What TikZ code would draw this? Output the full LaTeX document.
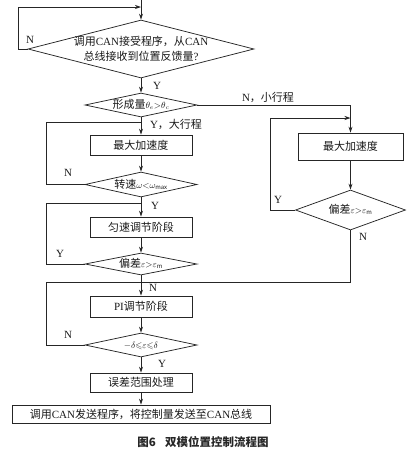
\documentclass[tikz,border=0pt]{standalone}
\usepackage{amssymb}
\usepackage{fontspec}
\setmainfont{Noto Sans CJK SC}
\newfontfamily\lat{Liberation Serif}
\usetikzlibrary{shapes.geometric,arrows.meta}
\newcommand\zbox[1]{\makebox[0pt]{\raisebox{-0.36em}[0pt][0pt]{#1}}}
\newcommand\mth[1]{{\fontsize{9}{10}\selectfont$#1$}}
\begin{document}
\begin{tikzpicture}[x=1pt,y=-1pt,
  every node/.style={font=\fontsize{11}{15}\selectfont, text=black!90},
  line/.style={draw=black!85, line width=0.75pt},
  arr/.style={line, -{Stealth[length=6pt,width=4pt]}},
  box/.style={line, rectangle, inner sep=0pt, minimum width=102pt, minimum height=20pt},
  dia/.style={line, diamond, inner sep=0pt},
  lbl/.style={inner sep=0pt, font=\lat\fontsize{11}{13}\selectfont}
]
\useasboundingbox (0,0) rectangle (416,459);

% main column
\node[dia, minimum width=226pt, minimum height=58pt] (d1) at (141,49)
  {\zbox{\begin{tabular}{@{}c@{}}调用{\lat CAN}接受程序，从{\lat CAN}\\总线接收到位置反馈量{\lat ?}\end{tabular}}};
\node[dia, minimum width=112pt, minimum height=24pt] (d2) at (141,105)
  {\zbox{形成量\mth{\theta_e{>}\theta_c}}};
\node[box] (b1) at (141,145) {最大加速度};
\node[dia, minimum width=112pt, minimum height=25pt] (d3) at (141,184.5)
  {\zbox{转速\mth{\omega{<}\omega_{\max}}}};
\node[box] (b2) at (141,227) {匀速调节阶段};
\node[dia, minimum width=112pt, minimum height=22pt] (d4) at (141,264)
  {\zbox{偏差\mth{\varepsilon{>}\varepsilon_{\mathrm m}}}};
\node[box, minimum height=21pt] (b3) at (141,306.5) {{\lat PI}调节阶段};
\node[dia, minimum width=112pt, minimum height=24pt] (d5) at (141,345)
  {\zbox{\mth{-\delta{\leqslant}\varepsilon{\leqslant}\delta}}};
\node[box, minimum height=19pt] (b4) at (141,382.5) {误差范围处理};
\node[box, minimum width=258pt, minimum height=18pt] (b5) at (141,414)
  {调用{\lat CAN}发送程序，将控制量发送至{\lat CAN}总线};

% right column
\node[box, minimum width=105pt, minimum height=27pt] (rb) at (350.5,146.5) {最大加速度};
\node[dia, minimum width=110pt, minimum height=40pt] (rd) at (350.5,210)
  {\zbox{偏差\mth{\varepsilon{>}\varepsilon_{\mathrm m}}}};

% caption
\node[font=\bfseries\fontsize{11.5}{13}\selectfont, text=black!85] (cap) at (203,442)
  {图6\hspace{0.8em}双模位置控制流程图};

% junction coordinates
\coordinate (top) at (141,0);
\coordinate (j0) at (141,7);
\coordinate (j1) at (141,122);
\coordinate (j2) at (141,203);
\coordinate (j3) at (141,282);
\coordinate (jr) at (350.5,118);

% connectors
\draw[arr] (top) -- (d1.north);
\draw[arr] (d1.west) -- ++(-9,0) |- (j0);
\draw[arr] (d1.south) -- (d2.north);
\draw[arr] (d2.south) -- (b1.north);
\draw[arr] (b1.south) -- (d3.north);
\draw[line] (d3.west) -- ++(-38,0) |- (j1);
\draw[arr] (d3.south) -- (b2.north);
\draw[arr] (b2.south) -- (d4.north);
\draw[line] (d4.west) -- ++(-38,0) |- (j2);
\draw[arr] (d4.south) -- (b3.north);
\draw[arr] (b3.south) -- (d5.north);
\draw[line] (d5.west) -- ++(-38,0) |- (j3);
\draw[arr] (d5.south) -- (b4.north);
\draw[arr] (b4.south) -- (b5.north);

\draw[arr] (d2.east) -| (rb.north);
\draw[arr] (rb.south) -- (rd.north);
\draw[arr] (rd.west) -- ++(-25,0) |- (jr);
\draw[line] (rd.south) |- (j3);

% labels
\node[lbl] (l1) at (30,40) {N};
\node[lbl] (l2) at (157,86) {Y};
\node[lbl] (l3) at (268,97) {N{\rmfamily\fontsize{11}{13}\selectfont ，小行程}};
\node[lbl] (l4) at (176,124) {Y{\rmfamily\fontsize{11}{13}\selectfont ，大行程}};
\node[lbl] (l5) at (68,173) {N};
\node[lbl] (l6) at (155,206) {Y};
\node[lbl] (l7) at (60,254) {Y};
\node[lbl] (l8) at (153,288) {N};
\node[lbl] (l9) at (68,335) {N};
\node[lbl] (l10) at (162,364) {Y};
\node[lbl] (l11) at (278,200) {Y};
\node[lbl] (l12) at (363,237) {N};
\end{tikzpicture}
\end{document}
